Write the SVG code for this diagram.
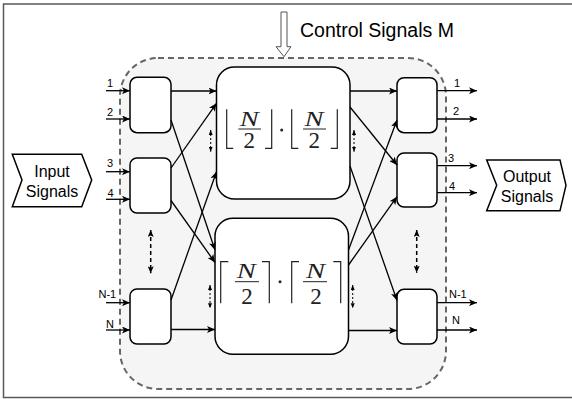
<svg xmlns="http://www.w3.org/2000/svg" width="572" height="399" viewBox="0 0 572 399">
<style>
.lbl{font-family:"Liberation Sans",Arial,sans-serif;font-size:11px;fill:#000}
.big{font-family:"Liberation Sans",Arial,sans-serif;font-size:16px;fill:#000;text-anchor:middle}
.sw{fill:#fff;stroke:#000;stroke-width:1.5}
.bb{fill:#fff;stroke:#000;stroke-width:1.5}
.c{stroke:#000;stroke-width:1.3;fill:none;marker-end:url(#ah)}
.dl{stroke:#000;stroke-width:1.5;stroke-dasharray:4 3;fill:none;marker-start:url(#dh);marker-end:url(#dh)}
.ds{stroke:#000;stroke-width:1;stroke-dasharray:2 2;fill:none;marker-start:url(#sh);marker-end:url(#sh)}
.br{fill:none;stroke:#222;stroke-width:1.2}
.mN{font-family:"Liberation Serif","Times New Roman",serif;font-style:italic;font-size:21px;fill:#222;text-anchor:middle}
.m2{font-family:"Liberation Serif","Times New Roman",serif;font-size:23px;fill:#222;text-anchor:middle}
.fb{stroke:#222;stroke-width:1}
</style>
<defs>
<marker id="ah" viewBox="0 0 8 7" refX="8" refY="3.5" markerWidth="8" markerHeight="7" markerUnits="userSpaceOnUse" orient="auto">
<path d="M0,0 L8,3.5 L0,7 L2,3.5 Z" fill="#000"/>
</marker>
<marker id="dh" viewBox="0 0 7 6" refX="7" refY="3" markerWidth="7" markerHeight="6" markerUnits="userSpaceOnUse" orient="auto-start-reverse">
<path d="M0,0 L7,3 L0,6 L1.5,3 Z" fill="#000"/>
</marker>
<marker id="sh" viewBox="0 0 5 4" refX="5" refY="2" markerWidth="5" markerHeight="4" markerUnits="userSpaceOnUse" orient="auto-start-reverse">
<path d="M0,0 L5,2 L0,4 Z" fill="#000"/>
</marker>
</defs>

<rect x="3.5" y="4" width="580" height="393.5" fill="#fff" stroke="#595959" stroke-width="1.5"/>

<g id="network">
<rect x="120" y="58" width="326" height="331" rx="38" ry="38" fill="#f5f5f5" stroke="#666" stroke-width="2" stroke-dasharray="6 4"/>
</g>

<g id="control-signals">
<path d="M281,12 L287,12 L287,46.7 L291,46.7 L284,56.7 L276,46.7 L281,46.7 Z" fill="#fff" stroke="#555" stroke-width="1"/>
<text x="300" y="37" font-family="'Liberation Sans',Arial,sans-serif" font-size="19.5px" fill="#000">Control Signals M</text>
</g>

<g id="input-signals">
<path d="M12.3,154.3 L81.7,154.3 L91.7,180 L81.7,206.7 L12.3,206.7 L22,180 Z" fill="#fff" stroke="#000" stroke-width="1.5"/>
<text class="big" x="52" y="177">Input</text>
<text class="big" x="52" y="197">Signals</text>
</g>

<g id="output-signals">
<path d="M486.7,160 L560,160 L566,185.3 L560,210.7 L486.7,210.7 L496.7,185.3 Z" fill="#fff" stroke="#000" stroke-width="1.5"/>
<text class="big" x="527" y="181.5">Output</text>
<text class="big" x="527" y="201.5">Signals</text>
</g>

<g id="switch-in-1"><rect class="sw" x="130" y="77.3" width="41" height="55.4" rx="7"/></g>
<g id="switch-in-2"><rect class="sw" x="130" y="158" width="41" height="55" rx="7"/></g>
<g id="switch-in-n"><rect class="sw" x="130" y="289" width="41" height="55" rx="7"/></g>
<g id="switch-out-1"><rect class="sw" x="397" y="77.7" width="40" height="55" rx="7"/></g>
<g id="switch-out-2"><rect class="sw" x="397" y="153" width="40" height="54" rx="7"/></g>
<g id="switch-out-n"><rect class="sw" x="397" y="289.3" width="40" height="54.7" rx="7"/></g>

<g id="subnet-floor">
<rect class="bb" x="216.5" y="67" width="133.5" height="132" rx="18"/>
<polyline class="br" points="226.7,109.3 226.7,148.3 233.3,148.3"/>
<text class="mN" x="249.3" y="125.7" textLength="19" lengthAdjust="spacingAndGlyphs">N</text>
<line class="fb" x1="238.3" y1="129" x2="261" y2="129"/>
<text class="m2" x="249.3" y="148.3">2</text>
<polyline class="br" points="271.7,109.3 271.7,148.3 265,148.3"/>
<circle cx="281.7" cy="130" r="1.5" fill="#222"/>
<polyline class="br" points="291.7,109.3 291.7,148.3 298.3,148.3"/>
<text class="mN" x="314" y="125.7" textLength="19" lengthAdjust="spacingAndGlyphs">N</text>
<line class="fb" x1="303" y1="129" x2="326" y2="129"/>
<text class="m2" x="314.3" y="148.3">2</text>
<polyline class="br" points="337.3,109.3 337.3,148.3 330.7,148.3"/>
</g>

<g id="subnet-ceil">
<rect class="bb" x="215" y="218.3" width="133.5" height="136" rx="18"/>
<polyline class="br" points="228.3,261.7 220.7,261.7 220.7,303.3"/>
<text class="mN" x="246.3" y="278.3" textLength="19" lengthAdjust="spacingAndGlyphs">N</text>
<line class="fb" x1="235" y1="281.7" x2="259" y2="281.7"/>
<text class="m2" x="247" y="304">2</text>
<polyline class="br" points="262,261.7 269.3,261.7 269.3,303.3"/>
<circle cx="280" cy="281.7" r="1.5" fill="#222"/>
<polyline class="br" points="299,261.7 291.7,261.7 291.7,303.3"/>
<text class="mN" x="315.5" y="278.3" textLength="19" lengthAdjust="spacingAndGlyphs">N</text>
<line class="fb" x1="303" y1="281.7" x2="327" y2="281.7"/>
<text class="m2" x="316" y="304">2</text>
<polyline class="br" points="333.3,261.7 340.7,261.7 340.7,303.3"/>
</g>

<g id="connectors">
<line class="c" x1="106" y1="90.7" x2="130" y2="90.7"/>
<line class="c" x1="106" y1="119" x2="130" y2="119"/>
<line class="c" x1="106" y1="171.7" x2="130" y2="171.7"/>
<line class="c" x1="106" y1="199.3" x2="130" y2="199.3"/>
<line class="c" x1="106" y1="302.7" x2="130" y2="302.7"/>
<line class="c" x1="106" y1="330" x2="130" y2="330"/>

<line class="c" x1="171" y1="91" x2="216.5" y2="91"/>
<line class="c" x1="171" y1="120" x2="215" y2="250"/>
<line class="c" x1="171" y1="168" x2="216.5" y2="103.3"/>
<line class="c" x1="171" y1="200.5" x2="215" y2="262.5"/>
<line class="c" x1="171" y1="300" x2="216.5" y2="171.7"/>
<line class="c" x1="171" y1="329.5" x2="215" y2="329.5"/>

<line class="c" x1="350" y1="91" x2="397" y2="91"/>
<line class="c" x1="350" y1="107" x2="397" y2="165"/>
<line class="c" x1="348.5" y1="250" x2="397" y2="120"/>
<line class="c" x1="348.5" y1="265" x2="397" y2="196.7"/>
<line class="c" x1="350" y1="166" x2="397" y2="300.5"/>
<line class="c" x1="348.5" y1="330.5" x2="397" y2="330.5"/>

<line class="c" x1="437" y1="90.7" x2="477" y2="90.7"/>
<line class="c" x1="437" y1="119" x2="477" y2="119"/>
<line class="c" x1="437" y1="165.7" x2="477" y2="165.7"/>
<line class="c" x1="437" y1="192.7" x2="477" y2="192.7"/>
<line class="c" x1="437" y1="302.7" x2="477" y2="302.7"/>
<line class="c" x1="437" y1="330" x2="477" y2="330"/>

<line class="dl" x1="150.7" y1="230" x2="150.7" y2="273.3"/>
<line class="dl" x1="416.7" y1="230" x2="416.7" y2="272.7"/>
<line class="ds" x1="210.7" y1="130" x2="210.7" y2="151.7"/>
<line class="ds" x1="354" y1="130" x2="354" y2="151.7"/>
<line class="ds" x1="210" y1="285" x2="210" y2="308.3"/>
<line class="ds" x1="352.7" y1="285" x2="352.7" y2="308.3"/>
</g>

<g id="labels">
<text class="lbl" x="107" y="87">1</text>
<text class="lbl" x="107" y="115.5">2</text>
<text class="lbl" x="107" y="167">3</text>
<text class="lbl" x="107.5" y="197">4</text>
<text class="lbl" x="98.5" y="298">N-1</text>
<text class="lbl" x="106" y="327.5">N</text>
<text class="lbl" x="454" y="87">1</text>
<text class="lbl" x="453" y="115">2</text>
<text class="lbl" x="448" y="162">3</text>
<text class="lbl" x="449" y="190">4</text>
<text class="lbl" x="449" y="298">N-1</text>
<text class="lbl" x="452" y="324">N</text>
</g>
</svg>
